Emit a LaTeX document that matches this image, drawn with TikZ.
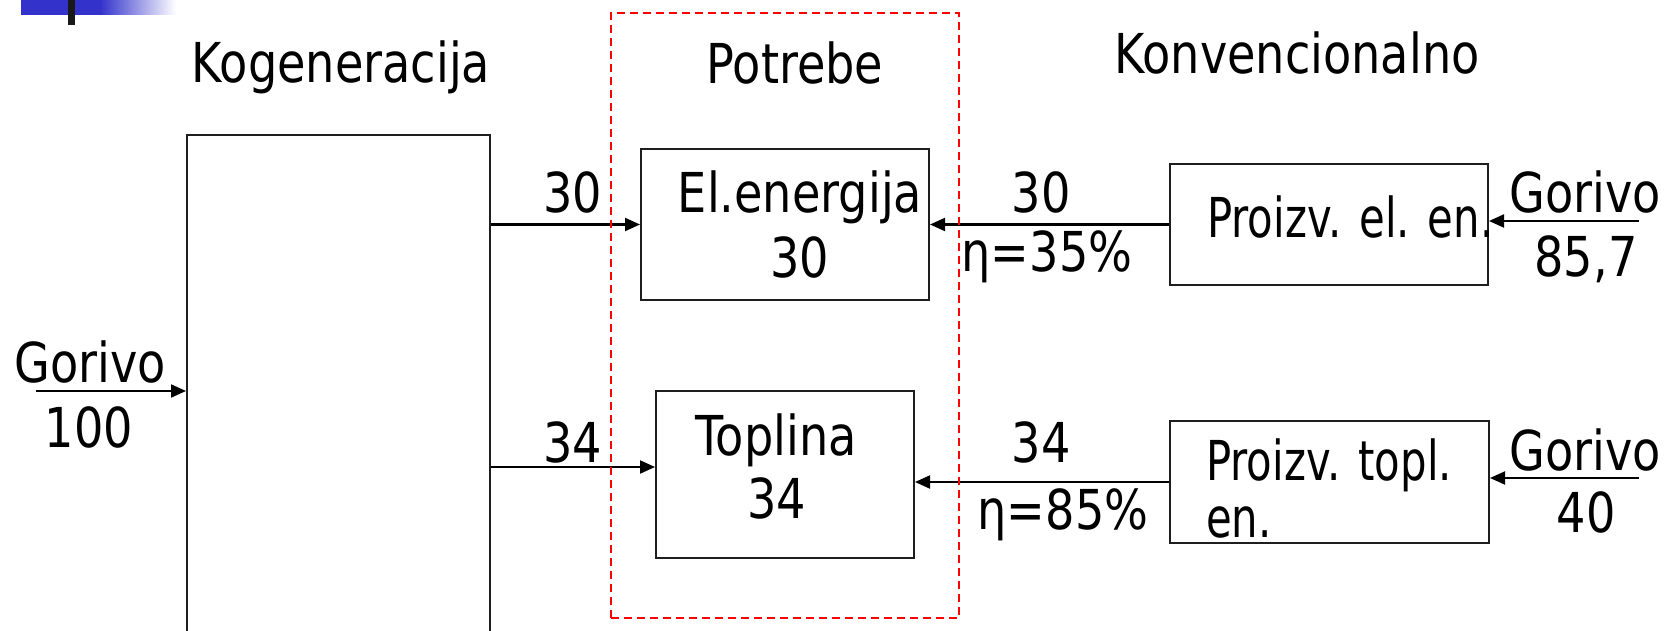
\documentclass[tikz,border=0pt]{standalone}
\usepackage{fontspec}
\setmainfont{DejaVu Sans}[FakeStretch=0.84]
\newfontfamily\narrowfont{DejaVu Sans}[FakeStretch=0.76]
\usetikzlibrary{arrows.meta}
\definecolor{barblue}{RGB}{51,51,204}
\definecolor{dashred}{RGB}{255,0,0}
\definecolor{boxline}{RGB}{30,30,30}

\begin{document}
\begin{tikzpicture}[x=1pt,y=-1pt,
  txt/.style={font=\fontsize{55}{60}\selectfont, anchor=base, inner sep=0pt},
  ntxt/.style={font=\narrowfont\fontsize{55}{60}\selectfont, anchor=base west, inner sep=0pt},
  box/.style={draw=boxline, line width=2pt, inner sep=0pt},
  flow/.style={line width=2pt, -{Triangle[length=15pt,width=13pt]}},
  groupbox/.style={draw=dashred, line width=2pt, dash pattern=on 8pt off 5pt, inner sep=0pt},
]
\useasboundingbox (0,0) rectangle (1670,631);
\clip (0,0) rectangle (1670,631);
\fill[white] (0,0) rectangle (1670,631);

% header bar
\fill[barblue] (21,0) rectangle (100,15);
\shade[left color=barblue, right color=white] (100,0) rectangle (176,15);
\fill[black!90] (68,0) rectangle (75,25);

% column titles
\node[txt] (tkog) at (341,83) {Kogeneracija};
\node[txt] (tpot) at (795,84) {Potrebe};
\node[txt] (tkon) at (1297,74) {Konvencionalno};

% blocks
\node[box, minimum width=303pt, minimum height=545pt] (kog) at (338.5,407.5) {};
\node[box, minimum width=288pt, minimum height=151pt] (el) at (785,224.5) {};
\node[box, minimum width=258pt, minimum height=167pt] (top) at (785,474.5) {};
\node[box, minimum width=318pt, minimum height=121pt] (pel) at (1329,224.5) {};
\node[box, minimum width=319pt, minimum height=122pt] (ptl) at (1329.5,482) {};

% block texts
\node[txt] (elA) at (800,212) {El.energija};
\node[txt] (elB) at (800,277) {30};
\node[txt] (topA) at (776,455) {Toplina};
\node[txt] (topB) at (777,518) {34};
\node[ntxt] (pelA) at (1207,237) {Proizv. el. en.};
\node[ntxt] (ptlA) at (1206,480) {Proizv. topl.};
\node[ntxt] (ptlB) at (1206,537) {en.};

% fuel inputs
\coordinate (g1) at (36,391);
\coordinate (g2) at (1639,221);
\coordinate (g3) at (1639,478);
\node[txt] (fin1) at (90,382) {Gorivo};
\node[txt] (fin1v) at (89,447) {100};
\node[txt] (fin2) at (1585,213) {Gorivo};
\node[txt] (fin2v) at (1586,276) {85,7};
\node[txt] (fin3) at (1585,470) {Gorivo};
\node[txt] (fin3v) at (1586,532) {40};

% flow labels
\node[txt] (f1) at (573,212) {30};
\node[txt] (f2) at (573,462) {34};
\node[txt] (f3) at (1041,212) {30};
\node[txt] (f3e) at (1047,271) {η=35\%};
\node[txt] (f4) at (1041,462) {34};
\node[txt] (f4e) at (1063,529) {η=85\%};

% flows
\coordinate (k2) at (490,467);
\draw[flow] (g1) -- (g1 -| kog.west);
\draw[flow] (kog.east |- el.west) -- (el.west);
\draw[flow] (kog.east |- k2) -- (top.west |- k2);
\draw[flow] (pel.west) -- (el.east);
\draw[flow] (ptl.west) -- (top.east |- ptl.west);
\draw[flow] (g2) -- (g2 -| pel.east);
\draw[flow] (g3) -- (g3 -| ptl.east);

% demand group
\node[groupbox, minimum width=348pt, minimum height=605pt] (potr) at (785,315.5) {};
\end{tikzpicture}
\end{document}
